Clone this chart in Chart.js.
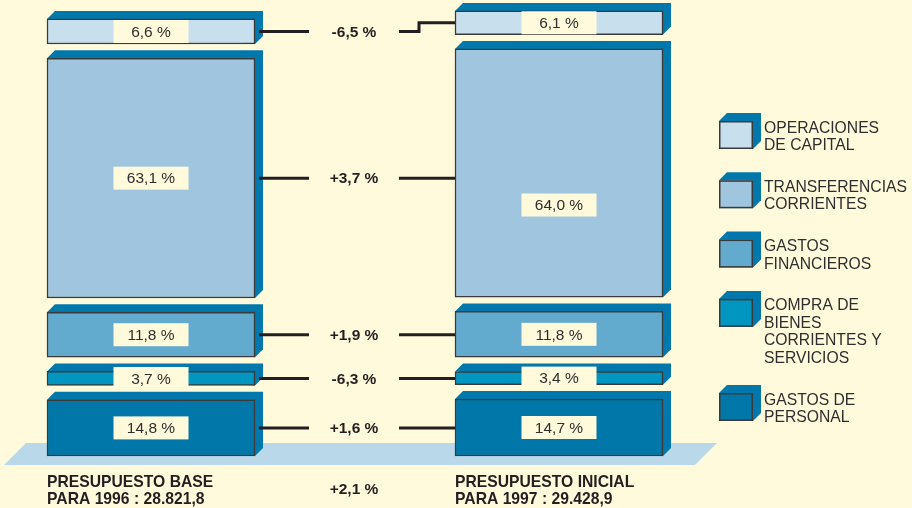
<!DOCTYPE html>
<html>
<head>
<meta charset="utf-8">
<script src="https://cdn.jsdelivr.net/npm/chart.js@4.4.1/dist/chart.umd.min.js"></script>
<style>
  html, body { margin: 0; padding: 0; background: #fffadc; }
  #wrap { position: relative; width: 912px; height: 508px; }
</style>
</head>
<body>
<div id="wrap"><canvas id="myChart" width="912" height="508"></canvas></div>
<script>
// spending chapters, top of the stack first
const categories = [
  ['OPERACIONES', 'DE CAPITAL'],
  ['TRANSFERENCIAS', 'CORRIENTES'],
  ['GASTOS', 'FINANCIEROS'],
  ['COMPRA DE', 'BIENES', 'CORRIENTES Y', 'SERVICIOS'],
  ['GASTOS DE', 'PERSONAL']
];
const columnTitles = [
  ['PRESUPUESTO BASE', 'PARA 1996 : 28.821,8'],
  ['PRESUPUESTO INICIAL', 'PARA 1997 : 29.428,9']
];
const totals = [28821.8, 29428.9];
const shares1996 = [6.6, 63.1, 11.8, 3.7, 14.8];
const shares1997 = [6.1, 64.0, 11.8, 3.4, 14.7];
const changes = [-6.5, 3.7, 1.9, -6.3, 1.6];
const totalChange = 2.1;

// look
const colors = ['#c8e0ee', '#a0c6df', '#62abcf', '#0096c0', '#0077a8'];
const sideColor = '#0078ab';
const bg = '#fffadc';
const FONT = "'Liberation Sans', Arial, sans-serif";
const DEPTH = 8;
const GAP_PX = 14.3;
const Y_MIN = -3945, Y_MAX = 34600;
const X_MIN = -0.3701, X_MAX = 1.8652;
const gapUnits = GAP_PX * (Y_MAX - Y_MIN) / 508;
// nudge for value boxes that would sit on a connector line
const labelShift = [[0, 0], [0, 32], [0, 0], [0, 0], [0, 0]];

const fmt = v => v.toFixed(1).replace('.', ',');
const fmtSigned = v => (v > 0 ? '+' : '') + fmt(v) + ' %';

// stack a column from the bottom chapter upward, with a gap between blocks
function stackColumn(shares, total) {
  const ranges = new Array(shares.length);
  let base = 0;
  for (let i = shares.length - 1; i >= 0; i--) {
    const amount = shares[i] * total / 100;
    ranges[i] = [base, base + amount];
    base += amount + gapUnits;
  }
  return ranges;
}
const col1996 = stackColumn(shares1996, totals[0]);
const col1997 = stackColumn(shares1997, totals[1]);
const shares = [shares1996, shares1997];

const data = {
  datasets: categories.map((lines, i) => ({
    label: lines.join(' '),
    data: [{ x: 0, y: col1996[i] }, { x: 1, y: col1997[i] }],
    backgroundColor: colors[i],
    borderColor: '#3a3a3a',
    borderWidth: 1.5,
    borderSkipped: false,
    barThickness: 208,
    grouped: false
  }))
};

function barBox(el) {
  const p = el.getProps(['x', 'y', 'base', 'width'], true);
  return {
    left: p.x - p.width / 2, right: p.x + p.width / 2,
    top: Math.min(p.y, p.base), bottom: Math.max(p.y, p.base), cx: p.x
  };
}

// floor slab + the top and side faces of every block
const blocks3d = {
  id: 'blocks3d',
  beforeDatasetsDraw(chart) {
    const ctx = chart.ctx;
    const zero = chart.scales.y.getPixelForValue(0);
    const first = barBox(chart.getDatasetMeta(0).data[0]);
    const last = barBox(chart.getDatasetMeta(0).data[1]);
    ctx.save();
    ctx.fillStyle = '#b9d9ea';
    ctx.beginPath();
    ctx.moveTo(first.left - 21, zero - 13);
    ctx.lineTo(last.right + 54, zero - 13);
    ctx.lineTo(last.right + 32, zero + 9);
    ctx.lineTo(first.left - 43, zero + 9);
    ctx.closePath();
    ctx.fill();

    ctx.fillStyle = sideColor;
    chart.data.datasets.forEach((ds, i) => {
      chart.getDatasetMeta(i).data.forEach(el => {
        const b = barBox(el);
        ctx.beginPath();
        ctx.moveTo(b.left, b.top);
        ctx.lineTo(b.left + DEPTH, b.top - DEPTH);
        ctx.lineTo(b.right + DEPTH, b.top - DEPTH);
        ctx.lineTo(b.right + DEPTH, b.bottom - DEPTH);
        ctx.lineTo(b.right, b.bottom);
        ctx.closePath();
        ctx.fill();
      });
    });
    ctx.restore();
  },
  afterDatasetsDraw(chart) {
    const ctx = chart.ctx;
    ctx.save();
    ctx.textAlign = 'center';
    ctx.textBaseline = 'middle';

    // value boxes
    chart.data.datasets.forEach((ds, i) => {
      chart.getDatasetMeta(i).data.forEach((el, j) => {
        const b = barBox(el);
        const cy = (b.top + b.bottom) / 2 + labelShift[i][j];
        ctx.fillStyle = bg;
        ctx.fillRect(b.cx - 37.5, cy - 11.5, 75, 23);
        ctx.fillStyle = '#2e2e2e';
        ctx.font = '15.5px ' + FONT;
        ctx.fillText(fmt(shares[j][i]) + ' %', b.cx, cy + 1);
      });
    });

    // connectors and change rates between the two columns
    let midX = 0;
    chart.data.datasets.forEach((ds, i) => {
      const meta = chart.getDatasetMeta(i);
      const a = barBox(meta.data[0]);
      const c = barBox(meta.data[1]);
      const yL = (a.top + a.bottom) / 2;
      const yR = (c.top + c.bottom) / 2;
      const x1 = a.right + 4, x2 = a.right + 54;
      const x3 = c.left - 56, x4 = c.left;
      midX = (x2 + x3) / 2;
      ctx.strokeStyle = '#231f20';
      ctx.lineWidth = 3;
      ctx.beginPath();
      ctx.moveTo(x1, yL); ctx.lineTo(x2, yL);
      ctx.moveTo(x3, yL);
      if (Math.abs(yL - yR) > 7) {
        ctx.lineTo(x3 + 20, yL);
        ctx.lineTo(x3 + 20, yR);
        ctx.lineTo(x4, yR);
      } else {
        ctx.lineTo(x4, yL);
      }
      ctx.stroke();
      ctx.fillStyle = '#231f20';
      ctx.font = 'bold 15.5px ' + FONT;
      ctx.fillText(fmtSigned(changes[i]), midX, yL + 1);
    });

    // column titles and overall change
    const zero = chart.scales.y.getPixelForValue(0);
    ctx.fillStyle = '#231f20';
    ctx.font = 'bold 15.5px ' + FONT;
    ctx.fillText(fmtSigned(totalChange), midX, zero + 34);
    ctx.textAlign = 'left';
    ctx.textBaseline = 'alphabetic';
    ctx.font = 'bold 15.7px ' + FONT;
    chart.getDatasetMeta(0).data.forEach((el, j) => {
      const b = barBox(el);
      columnTitles[j].forEach((line, k) => {
        ctx.fillText(line, b.left, zero + 30.5 + k * 17);
      });
    });
    ctx.restore();
  },
  afterDraw(chart) {
    // legend with small 3D swatches
    const ctx = chart.ctx;
    ctx.save();
    let top = 121;
    const left = 719, w = 34, h = 28;
    categories.forEach((lines, i) => {
      ctx.fillStyle = sideColor;
      ctx.beginPath();
      ctx.moveTo(left, top);
      ctx.lineTo(left + DEPTH, top - DEPTH);
      ctx.lineTo(left + w + DEPTH, top - DEPTH);
      ctx.lineTo(left + w + DEPTH, top + h - DEPTH);
      ctx.lineTo(left + w, top + h);
      ctx.closePath();
      ctx.fill();
      ctx.fillStyle = colors[i];
      ctx.fillRect(left, top, w, h);
      ctx.strokeStyle = '#3a3a3a';
      ctx.lineWidth = 1.5;
      ctx.strokeRect(left + 0.75, top + 0.75, w - 1.5, h - 1.5);

      ctx.fillStyle = '#2e2e2e';
      ctx.font = '15.7px ' + FONT;
      ctx.textAlign = 'left';
      ctx.textBaseline = 'alphabetic';
      lines.forEach((line, k) => ctx.fillText(line, 764, top + 11.5 + k * 17.4));
      top += lines.length * 17.4 + 24.5;
    });
    ctx.restore();
  }
};

const config = {
  type: 'bar',
  data,
  options: {
    responsive: false,
    animation: false,
    layout: { padding: 0 },
    plugins: { legend: { display: false }, tooltip: { enabled: false } },
    scales: {
      x: { type: 'linear', display: false, min: X_MIN, max: X_MAX, offset: false },
      y: { display: false, min: Y_MIN, max: Y_MAX }
    }
  },
  plugins: [blocks3d]
};

const myChart = new Chart(document.getElementById('myChart'), config);
</script>
</body>
</html>
